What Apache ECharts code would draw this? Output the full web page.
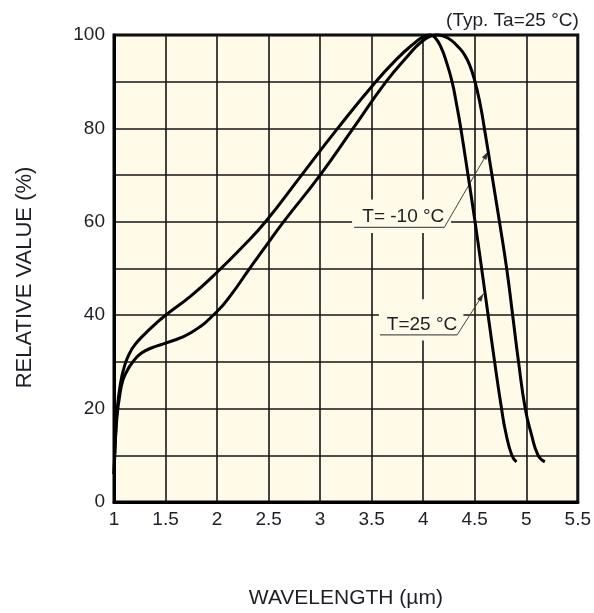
<!DOCTYPE html>
<html>
<head>
<meta charset="utf-8">
<script src="https://cdn.jsdelivr.net/npm/echarts@6/dist/echarts.min.js"></script>
<style>
  html, body { margin: 0; padding: 0; background: #ffffff; }
  #chart { width: 594px; height: 613px; }
</style>
</head>
<body>
<div id="chart"></div>
<script>
// Relative spectral response vs. wavelength at two temperatures.

// T = 25 °C
const t25Wavelength = [1.0, 1.015, 1.03, 1.06, 1.1, 1.15, 1.2, 1.3, 1.4, 1.5, 1.75, 2.0, 2.25, 2.47, 2.82, 3.17, 3.54, 3.75, 3.9, 4.0, 4.07, 4.12, 4.17, 4.22, 4.28, 4.325, 4.365, 4.435, 4.503, 4.567, 4.63, 4.693, 4.76, 4.8, 4.86, 4.905];
const t25Value      = [6,   14,    19.5, 25,   29,  31.8, 33.6, 36,  38.1, 40,  44.2, 49.2, 54.7, 60,   70,   80,   90,   95,   98,  99.6, 100,  99.3, 97.5, 94.6, 90,   85,    80,    70,    60,    50,    40,   30,    20,   15,  10,   8.6];

// T = -10 °C
const tm10Wavelength = [1.0, 1.015, 1.03, 1.05, 1.085, 1.13, 1.17, 1.26, 1.39, 1.5, 1.75, 2.0, 2.15, 2.3, 2.48, 2.645, 3.0, 3.32, 3.64, 3.85, 3.98, 4.08, 4.14, 4.2, 4.27, 4.35, 4.4, 4.45, 4.5, 4.55, 4.59, 4.667, 4.74, 4.81, 4.868, 4.925, 4.99, 5.05, 5.115, 5.18];
const tm10Value      = [6,   14,    18.5, 22,   26,    28.2, 29.6, 31.8, 33.2, 34,  36.3, 40.8, 44.8, 49.5, 55, 60,    70,  80,   90,   95.5, 98.5, 99.8, 100,  99.7, 98.9, 97.2, 95.8, 93.6, 90.2, 85.5, 80.5, 70,    60,   50,   40,    30,    20,   14.5, 10,    8.6];

// Axis ranges and tick steps
const xRange = [1, 5.5];
const xStep = 0.5;
const yRange = [0, 100];
const yGridStep = 10;
const yLabelStep = 20;

// Curve labels: text, underline ends and arrow tip (data coordinates)
const labelTexts = ['T= -10 °C', 'T=25 °C'];
const labelUnderlineFrom = [[3.33, 58.8], [3.58, 35.8]];
const labelUnderlineTo   = [[4.205, 58.8], [4.33, 35.8]];
const labelArrowTip      = [[4.63, 75], [4.585, 44.6]];
const labelMaskCorner1   = [[3.31, 64.8], [3.57, 43.4]];
const labelMaskCorner2   = [[4.27, 57.6], [4.39, 34.6]];

const FONT = '"Liberation Sans", Arial, Helvetica, sans-serif';
const PANEL = '#fffbe8';
const INK = '#1e1e26';

function pairs(xs, ys) { return xs.map((x, i) => [x, ys[i]]); }

const chart = echarts.init(document.getElementById('chart'), null, { renderer: 'canvas' });

chart.setOption({
  animation: false,
  backgroundColor: '#ffffff',
  grid: {
    left: 114, right: 13, top: 35, bottom: 111,
    show: true, backgroundColor: PANEL, borderColor: '#000', borderWidth: 3
  },
  xAxis: {
    type: 'value', min: xRange[0], max: xRange[1], interval: xStep,
    axisLine: { show: true, onZero: false, lineStyle: { color: '#000', width: 3 } },
    axisTick: { show: false },
    axisLabel: { margin: 8, fontFamily: FONT, fontSize: 19, color: INK, formatter: v => String(v) },
    splitLine: { show: true, lineStyle: { color: '#161616', width: 1.6 } }
  },
  yAxis: {
    type: 'value', min: yRange[0], max: yRange[1], interval: yGridStep,
    axisLine: { show: true, onZero: false, lineStyle: { color: '#000', width: 3 } },
    axisTick: { show: false },
    axisLabel: {
      margin: 9, fontFamily: FONT, fontSize: 19, color: INK,
      formatter: v => (v % yLabelStep === 0 ? String(v) : '')
    },
    splitLine: { show: true, lineStyle: { color: '#161616', width: 1.6 } }
  },
  series: [
    {
      name: 'T=25 °C', type: 'line', data: pairs(t25Wavelength, t25Value),
      smooth: 0.5, showSymbol: false, symbol: 'none', clip: false,
      lineStyle: { color: '#000', width: 3 }, z: 5
    },
    {
      name: 'T= -10 °C', type: 'line', data: pairs(tm10Wavelength, tm10Value),
      smooth: 0.5, showSymbol: false, symbol: 'none', clip: false,
      lineStyle: { color: '#000', width: 3 }, z: 5
    }
  ]
});

// Titles and curve labels
const px = p => chart.convertToPixel({ gridIndex: 0 }, p);
const gridRect = chart.getModel().getComponent('grid', 0).coordinateSystem.getRect();
const graphics = [];

graphics.push({
  type: 'text', x: gridRect.x + gridRect.width + 1, y: 21, z: 10,
  style: { text: '(Typ. Ta=25 °C)', font: '19px ' + FONT, fill: INK,
           textAlign: 'right', textVerticalAlign: 'middle', align: 'right', verticalAlign: 'middle' }
});
graphics.push({
  type: 'text', x: 24.5, y: gridRect.y + gridRect.height / 2 + 9, rotation: Math.PI / 2, z: 10,
  style: { text: 'RELATIVE VALUE (%)', font: '22px ' + FONT, fill: INK,
           textAlign: 'center', textVerticalAlign: 'middle', align: 'center', verticalAlign: 'middle' }
});
graphics.push({
  type: 'text', x: gridRect.x + gridRect.width / 2, y: 598, z: 10,
  style: { text: 'WAVELENGTH (µm)', font: '21px ' + FONT, fill: INK,
           textAlign: 'center', textVerticalAlign: 'middle', align: 'center', verticalAlign: 'middle' }
});

labelTexts.forEach((txt, i) => {
  const m1 = px(labelMaskCorner1[i]);
  const m2 = px(labelMaskCorner2[i]);
  const u1 = px(labelUnderlineFrom[i]);
  const u2 = px(labelUnderlineTo[i]);
  const tip = px(labelArrowTip[i]);

  graphics.push({
    type: 'rect', z: 1,
    shape: { x: Math.min(m1[0], m2[0]), y: Math.min(m1[1], m2[1]),
             width: Math.abs(m2[0] - m1[0]), height: Math.abs(m2[1] - m1[1]) },
    style: { fill: PANEL }
  });
  graphics.push({
    type: 'line', z: 3,
    shape: { x1: u1[0], y1: u1[1], x2: u2[0], y2: u2[1] },
    style: { stroke: '#555', lineWidth: 1.2 }
  });
  graphics.push({
    type: 'line', z: 3,
    shape: { x1: u2[0], y1: u2[1], x2: tip[0], y2: tip[1] },
    style: { stroke: '#444', lineWidth: 1 }
  });
  // arrowhead
  const dx = tip[0] - u2[0], dy = tip[1] - u2[1];
  const len = Math.hypot(dx, dy);
  const ux = dx / len, uy = dy / len;
  const headLen = 8, headHalf = 2.6;
  const bx = tip[0] - ux * headLen, by = tip[1] - uy * headLen;
  graphics.push({
    type: 'polygon', z: 3,
    shape: { points: [[tip[0], tip[1]], [bx - uy * headHalf, by + ux * headHalf], [bx + uy * headHalf, by - ux * headHalf]] },
    style: { fill: '#333' }
  });
  graphics.push({
    type: 'text', x: u2[0], y: u2[1] - 1, z: 4,
    style: { text: txt, font: '19px ' + FONT, fill: INK,
             textAlign: 'right', textVerticalAlign: 'bottom', align: 'right', verticalAlign: 'bottom' }
  });
});

chart.setOption({ graphic: graphics });
</script>
</body>
</html>
